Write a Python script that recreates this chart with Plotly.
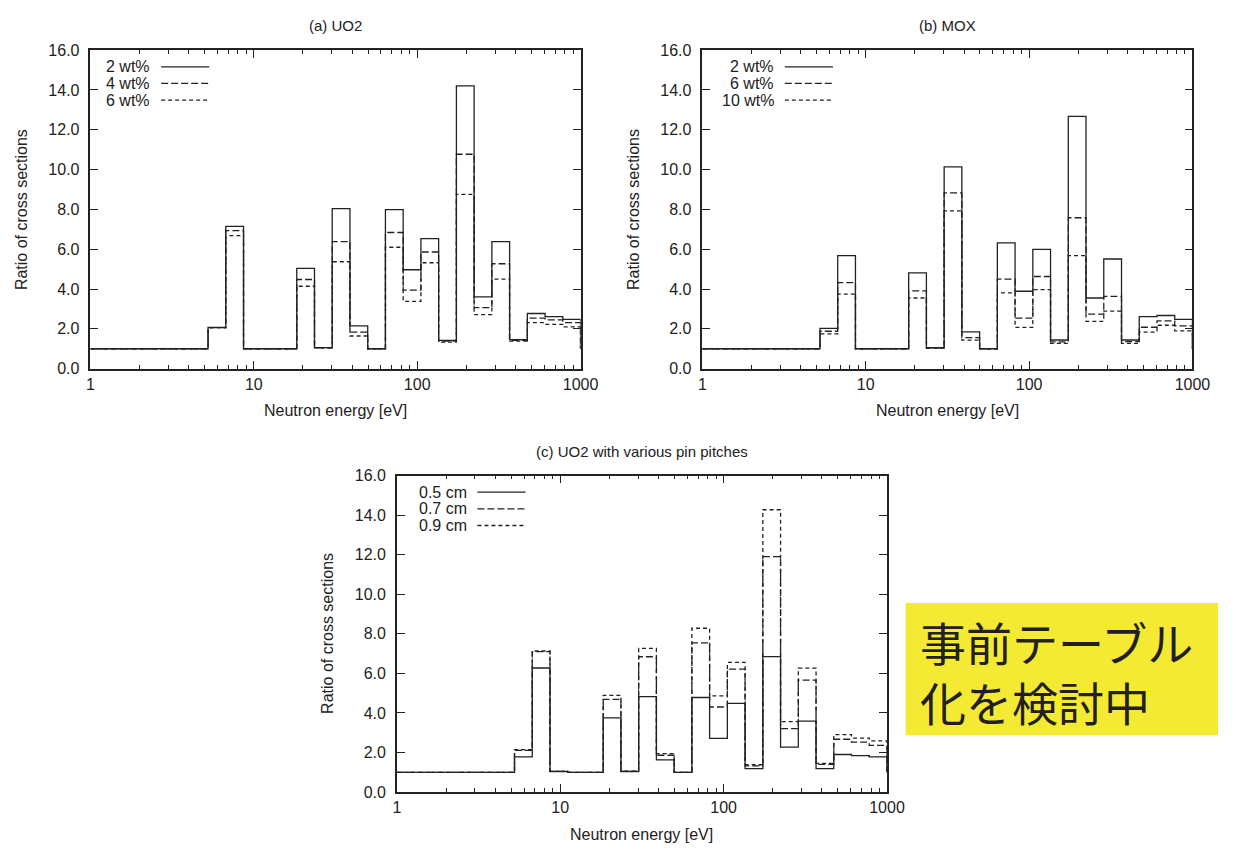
import plotly.graph_objects as go

# Energy group boundaries [eV] (constant lethargy width 0.25)
group_edges_ev = [5.248, 6.738, 8.652, 11.11, 14.26, 18.32, 23.52, 30.20, 38.77,
                  49.79, 63.93, 82.08, 105.4, 135.3, 173.8, 223.1, 286.5, 367.9,
                  472.4, 606.5, 778.8, 1000.0]

# (a) UO2 — ratio of cross sections per group
uo2_labels = ["2 wt%", "4 wt%", "6 wt%"]
uo2_2wt = [2.07, 7.15, 1.0, 1.0, 1.0, 5.04, 1.06, 8.04, 2.15, 1.0, 7.99, 4.97,
           6.53, 1.42, 14.2, 3.61, 6.38, 1.46, 2.77, 2.61, 2.48]
uo2_4wt = [2.06, 6.93, 1.0, 1.0, 1.0, 4.48, 1.05, 6.38, 1.84, 1.0, 6.84, 3.95,
           5.86, 1.38, 10.77, 3.07, 5.27, 1.42, 2.54, 2.45, 2.31]
uo2_6wt = [2.05, 6.68, 1.0, 1.0, 1.0, 4.14, 1.04, 5.37, 1.64, 1.0, 6.10, 3.38,
           5.32, 1.33, 8.75, 2.71, 4.50, 1.38, 2.31, 2.23, 2.10]

# (b) MOX
mox_labels = ["2 wt%", "6 wt%", "10 wt%"]
mox_2wt = [2.02, 5.68, 1.0, 1.0, 1.0, 4.81, 1.05, 10.14, 1.85, 1.0, 6.32, 3.89,
           5.99, 1.44, 12.67, 3.55, 5.51, 1.44, 2.61, 2.67, 2.48]
mox_6wt = [1.88, 4.32, 1.0, 1.0, 1.0, 3.91, 1.04, 8.83, 1.56, 1.0, 4.50, 2.54,
           4.63, 1.35, 7.58, 2.74, 3.63, 1.36, 2.08, 2.40, 2.15]
mox_10wt = [1.75, 3.74, 1.0, 1.0, 1.0, 3.55, 1.03, 7.93, 1.43, 1.0, 3.81, 2.07,
            3.97, 1.27, 5.68, 2.38, 2.89, 1.27, 1.84, 2.18, 1.90]

# (c) UO2 with various pin pitches
pitch_labels = ["0.5 cm", "0.7 cm", "0.9 cm"]
pitch_05 = [1.78, 6.27, 1.04, 1.0, 1.0, 3.75, 1.04, 4.82, 1.63, 1.0, 4.78, 2.71,
            4.48, 1.19, 6.85, 2.27, 3.59, 1.19, 1.90, 1.84, 1.78]
pitch_07 = [2.11, 7.10, 1.05, 1.0, 1.0, 4.69, 1.05, 6.84, 1.86, 1.0, 7.54, 4.30,
            6.21, 1.32, 11.90, 3.21, 5.66, 1.40, 2.67, 2.52, 2.36]
pitch_09 = [2.15, 7.13, 1.05, 1.0, 1.0, 4.89, 1.06, 7.26, 1.94, 1.0, 8.28, 4.86,
            6.55, 1.38, 14.27, 3.56, 6.26, 1.45, 2.90, 2.73, 2.59]

panel_titles = ["(a) UO2", "(b) MOX", "(c) UO2 with various pin pitches"]
x_title = "Neutron energy [eV]"
y_title = "Ratio of cross sections"
x_tick_vals = [1, 10, 100, 1000]
x_tick_labels = ["1", "10", "100", "1000"]
y_tick_vals = [0, 2, 4, 6, 8, 10, 12, 14, 16]
note_lines = ["事前テーブル", "化を検討中"]

W, H = 1236, 854
INK = "#222222"
FONT = "Liberation Sans, Arial, sans-serif"
DASHES = ["solid", "7px,3px", "4px,3px"]


def px_x(x):
    return x / W


def px_y(y):
    return 1 - y / H


# panel frames in pixels: left, right, top, bottom
panels = [
    dict(l=88, r=587, t=43, b=368, legend_line=160,
         series=[uo2_2wt, uo2_4wt, uo2_6wt], labels=uo2_labels),
    dict(l=711, r=1210, t=43, b=368, legend_line=795,
         series=[mox_2wt, mox_6wt, mox_10wt], labels=mox_labels),
    dict(l=400, r=899, t=477, b=800, legend_line=482,
         series=[pitch_05, pitch_07, pitch_09], labels=pitch_labels),
]

minor_vals = [m * d for d in (1, 10, 100) for m in range(2, 10)]

fig = go.Figure()
annotations = []
shapes = []

for i, p in enumerate(panels):
    sfx = "" if i == 0 else str(i + 1)
    xa, ya = "x" + sfx, "y" + sfx
    # step histograms: unity below the first group, then one level per group
    xs = [1.0] + group_edges_ev
    for k, vals in enumerate(p["series"]):
        ys = [1.0] + vals + [1.0]
        fig.add_trace(go.Scatter(
            x=xs, y=ys, mode="lines", line_shape="hv",
            line=dict(color=INK, width=1.3, dash=DASHES[k]),
            xaxis=xa, yaxis=ya, showlegend=False, hoverinfo="skip"))

    fig.update_layout(**{
        "xaxis" + sfx: dict(
            domain=[px_x(p["l"]), px_x(p["r"])], anchor=ya, type="log",
            range=[0, 3], tickmode="array", tickvals=x_tick_vals,
            ticktext=x_tick_labels, ticks="inside", ticklen=8,
            tickcolor=INK, showline=True, linecolor=INK, linewidth=1.5,
            mirror="allticks", showgrid=False, zeroline=False,
            tickfont=dict(family=FONT, size=16, color=INK),
            minor=dict(tickmode="array", tickvals=minor_vals, ticks="inside",
                       ticklen=4, tickcolor=INK, showgrid=False)),
        "yaxis" + sfx: dict(
            domain=[px_y(p["b"]), px_y(p["t"])], anchor=xa, range=[0, 16],
            tickmode="array", tickvals=y_tick_vals,
            ticktext=[f"{v:.1f}" for v in y_tick_vals],
            ticks="inside", ticklen=8, tickcolor=INK, showline=True,
            linecolor=INK, linewidth=1.5, mirror="allticks", showgrid=False,
            zeroline=False, ticklabelstandoff=6,
            tickfont=dict(family=FONT, size=16, color=INK)),
    })

    cx = (p["l"] + p["r"]) / 2
    cy = (p["t"] + p["b"]) / 2
    annotations.append(dict(
        text=panel_titles[i], x=px_x(cx), y=px_y(p["t"] - 25), xref="paper",
        yref="paper", showarrow=False, xanchor="center", yanchor="middle",
        font=dict(family=FONT, size=15, color=INK)))
    annotations.append(dict(
        text=x_title, x=px_x(cx), y=px_y(p["b"] + 43), xref="paper",
        yref="paper", showarrow=False, xanchor="center", yanchor="middle",
        font=dict(family=FONT, size=16, color=INK)))
    annotations.append(dict(
        text=y_title, x=px_x(p["l"] - 70), y=px_y(cy), xref="paper",
        yref="paper", showarrow=False, textangle=-90, xanchor="center",
        yanchor="middle", font=dict(family=FONT, size=16, color=INK)))

    # key: right-justified labels followed by line samples
    for k, lab in enumerate(p["labels"]):
        ry = p["t"] + 17 + 17 * k
        annotations.append(dict(
            text=lab, x=px_x(p["legend_line"] - 9), y=px_y(ry), xref="paper",
            yref="paper", showarrow=False, xanchor="right", yanchor="middle",
            font=dict(family=FONT, size=16, color=INK)))
        shapes.append(dict(
            type="line", xref="paper", yref="paper",
            x0=px_x(p["legend_line"]), x1=px_x(p["legend_line"] + 49),
            y0=px_y(ry), y1=px_y(ry),
            line=dict(color=INK, width=1.3, dash=DASHES[k])))

# highlighted note box, running to the right edge
shapes.append(dict(type="rect", xref="paper", yref="paper",
                   x0=px_x(918), x1=1.0, y0=px_y(742), y1=px_y(607),
                   fillcolor="#F4EA34", line=dict(width=0), layer="below"))
annotations.append(dict(
    text="<br>".join(note_lines), x=px_x(931), y=px_y(676), xref="paper",
    yref="paper", showarrow=False, xanchor="left", yanchor="middle",
    align="left", font=dict(family="Noto Sans CJK JP", size=46,
                            color="#231F20")))

fig.update_layout(
    width=W, height=H, margin=dict(l=0, r=0, t=0, b=0),
    paper_bgcolor="white", plot_bgcolor="white",
    annotations=annotations, shapes=shapes, showlegend=False)

fig.write_html("out.html")
